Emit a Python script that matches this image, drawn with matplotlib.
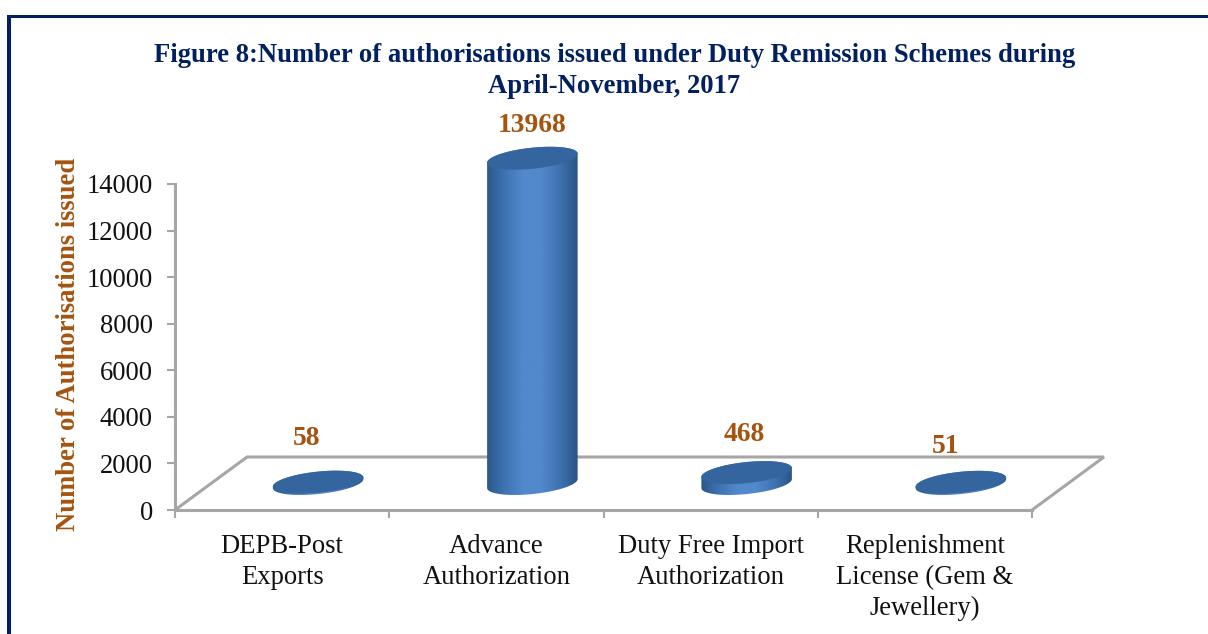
import numpy as np
import matplotlib
matplotlib.use('Agg')
import matplotlib.pyplot as plt
from matplotlib.colors import LinearSegmentedColormap
from matplotlib.patches import Polygon

plt.rcParams['font.family'] = ['Liberation Serif', 'DejaVu Serif']

# data
categories = ['DEPB-Post\nExports', 'Advance\nAuthorization',
              'Duty Free Import\nAuthorization', 'Replenishment\nLicense (Gem &\nJewellery)']
values = [58, 13968, 468, 51]
y_ticks = [0, 2000, 4000, 6000, 8000, 10000, 12000, 14000]

title = 'Figure 8:Number of authorisations issued under Duty Remission Schemes during\nApril-November, 2017'
ylabel = 'Number of Authorisations issued'

# label offsets from the cylinder centre, in pixels
label_dx = [-12, 0, -2, -15]
label_dy = [45, 33, 49, 37]

NAVY = '#002060'
BROWN = '#A5540F'
GRAY = '#A6A6A6'

W, H = 1208, 634
fig = plt.figure(figsize=(W / 100, H / 100), dpi=100)
ax = fig.add_axes([175 / W, 1 - 510 / H, 857 / W, 326 / H])
ax.set_xlim(0, 4)
ax.set_ylim(0, 14000)

# pixel to data scale
sx = 4 / 857
sy = 14000 / 326

# page border
fig.add_artist(plt.Line2D([9 / W, 9 / W], [0, 1 - 14.5 / H], color=NAVY, lw=2.9, solid_capstyle='butt'))
fig.add_artist(plt.Line2D([7 / W, 1], [1 - 16 / H, 1 - 16 / H], color=NAVY, lw=2.2, solid_capstyle='butt'))

# floor of the 3D box
depth_x = 72 * sx
depth_y = 53 * sy
ax.plot([0, depth_x, 4 + depth_x, 4], [0, depth_y, depth_y, 0],
        color=GRAY, lw=2.2, clip_on=False, solid_joinstyle='miter', zorder=1)

for s in ['top', 'right']:
    ax.spines[s].set_visible(False)
for s in ['left', 'bottom']:
    ax.spines[s].set_color(GRAY)
    ax.spines[s].set_linewidth(2.2)

ax.set_yticks(y_ticks)
ax.tick_params(axis='y', length=6, width=1.5, color=GRAY, labelsize=19.2,
               labelcolor='#111111', pad=10)
ax.set_xticks(range(5))
ax.set_xticks([i + 0.5 for i in range(4)], categories, minor=True, linespacing=1.33)
ax.tick_params(axis='x', which='major', length=6, width=1.5, color=GRAY, labelbottom=False)
ax.tick_params(axis='x', which='minor', length=0, labelsize=19.2, labelcolor='#111111', pad=17)

side_cmap = LinearSegmentedColormap.from_list(
    'side', ['#2A5788', '#3F74B3', '#5288CC', '#5288CC', '#3F74B3', '#2A5483'])


def ellipse(cx, cy, start, stop):
    # tilted ellipse of the cylinder cap, worked out in pixels then put in data units
    a, b, tilt = 45.5, 10.5, np.radians(6)
    t = np.linspace(start, stop, 80)
    dx = a * np.cos(t) * np.cos(tilt) - b * np.sin(t) * np.sin(tilt)
    dy = a * np.cos(t) * np.sin(tilt) + b * np.sin(t) * np.cos(tilt)
    return np.column_stack([cx + dx * sx, cy + dy * sy])


base_y = depth_y / 2
for i, v in enumerate(values):
    cx = i + 0.5 + depth_x / 2
    top = base_y + v
    side = np.vstack([ellipse(cx, base_y, np.pi, 2 * np.pi), ellipse(cx, top, 0, np.pi)])
    clip = Polygon(side, transform=ax.transData, closed=True, fc='none', ec='none')
    ax.add_patch(clip)
    clip.set_clip_on(False)
    im = ax.imshow(np.linspace(0, 1, 64)[None, :], cmap=side_cmap, aspect='auto',
                   extent=[cx - 46 * sx, cx + 46 * sx, base_y - 14 * sy, top + 14 * sy],
                   zorder=3)
    im.set_clip_box(fig.bbox)
    im.set_clip_path(clip)
    ax.add_patch(Polygon(ellipse(cx, top, 0, 2 * np.pi), closed=True, fc='#35659E',
                         ec='none', zorder=4, clip_on=False))
    ax.annotate(str(v), xy=(cx, top if v > 1000 else base_y),
                xytext=(label_dx[i] * 0.72, label_dy[i] * 0.72),
                textcoords='offset points', ha='center', va='center',
                fontsize=19.8, fontweight='bold', color=BROWN, annotation_clip=False)

ax.set_xlim(0, 4)
ax.set_ylim(0, 14000)

fig.text(614.5 / W, 1 - 71 / H, title, ha='center', va='center', fontsize=19.2,
         fontweight='bold', color=NAVY, linespacing=1.27)
fig.text(69 / W, 1 - 344 / H, ylabel, rotation=90, ha='center', va='center',
         fontsize=19.2, fontweight='bold', color=BROWN)

fig.savefig('out.png', dpi=100)
